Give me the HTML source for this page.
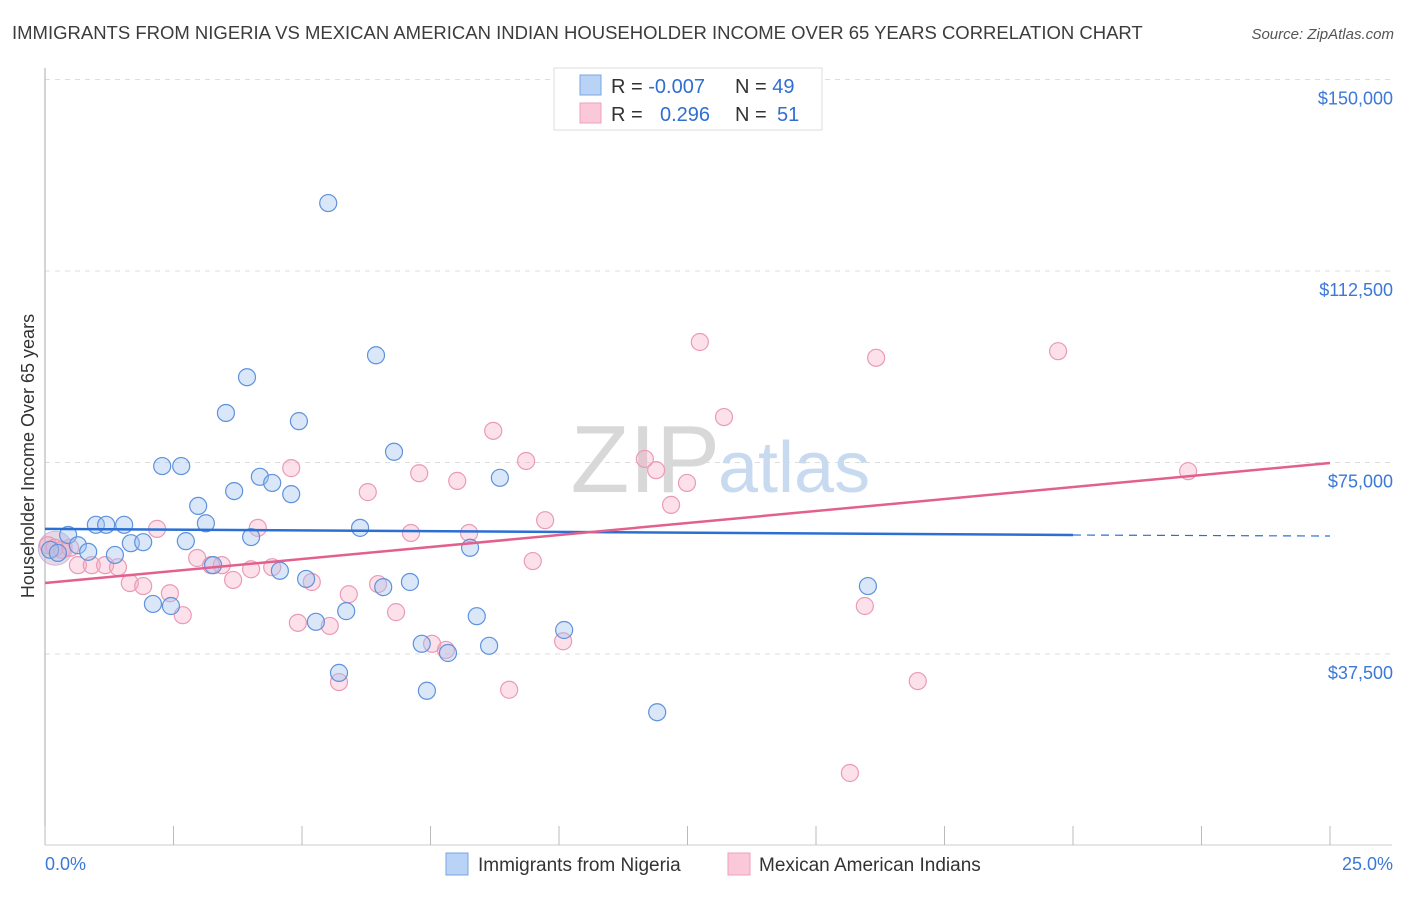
<!DOCTYPE html>
<html><head><meta charset="utf-8"><style>
body{margin:0;background:#fff;font-family:"Liberation Sans",sans-serif;}
svg text{font-family:"Liberation Sans",sans-serif;}
</style></head><body>
<svg id="chart" width="1406" height="892" viewBox="0 0 1406 892">
<text x="12" y="39" font-size="18.5" fill="#3c3c3c">IMMIGRANTS FROM NIGERIA VS MEXICAN AMERICAN INDIAN HOUSEHOLDER INCOME OVER 65 YEARS CORRELATION CHART</text>
<text x="1394" y="39" font-size="15" fill="#555" font-style="italic" text-anchor="end">Source: ZipAtlas.com</text>
<g id="grid"></g>
<g id="axes"></g>
<text x="720" y="492" font-size="96" font-family="Liberation Serif" fill="#d8d8d8" text-anchor="end">ZIP</text>
<text x="718" y="492" font-size="72" fill="#c8daf0">atlas</text>
<g id="marks"></g>
<g id="trends"></g>
<text transform="translate(34,456) rotate(-90)" font-size="18" fill="#333" text-anchor="middle">Householder Income Over 65 years</text>
<g>
<rect x="554" y="68" width="268" height="62" fill="#fff" stroke="#ddd"/>
<rect x="580" y="75" width="21" height="20" fill="#b8d3f5" stroke="#7aa6e0"/>
<rect x="580" y="103" width="21" height="20" fill="#fac8d8" stroke="#eda0bb"/>
<text x="611" y="93" font-size="20" fill="#333">R = <tspan fill="#2f6fd0">-0.007</tspan></text>
<text x="735" y="93" font-size="20" fill="#333">N = <tspan fill="#2f6fd0">49</tspan></text>
<text x="611" y="121" font-size="20" fill="#333">R = <tspan fill="#2f6fd0" x="660">0.296</tspan></text>
<text x="735" y="121" font-size="20" fill="#333">N = <tspan fill="#2f6fd0" x="777">51</tspan></text>
</g>
<g>
<rect x="446" y="853" width="22" height="22" fill="#b8d3f5" stroke="#7aa6e0"/>
<text x="478" y="871" font-size="19" fill="#333">Immigrants from Nigeria</text>
<rect x="728" y="853" width="22" height="22" fill="#fac8d8" stroke="#eda0bb"/>
<text x="759" y="871" font-size="19" fill="#333">Mexican American Indians</text>
</g>
</svg>
<script>
const yTicks=[37500,75000,112500,150000];
const yTickLabels=["$37,500","$75,000","$112,500","$150,000"];
const xTickLabels=["0.0%","25.0%"];
const blueX=[0.10,0.25,0.45,0.64,0.84,0.99,1.19,1.36,1.54,1.67,1.91,2.10,2.28,2.45,2.65,2.74,2.98,3.13,3.27,3.52,3.68,3.93,4.01,4.18,4.42,4.57,4.79,4.94,5.08,5.27,5.51,5.72,5.86,6.13,6.44,6.58,6.79,7.10,7.33,7.43,7.84,8.27,8.40,8.64,8.85,10.10,11.91,13.33,16.01];
const blueY=[57900,57300,60800,58800,57500,62800,62800,56900,62800,59200,59400,47300,74300,46900,74300,59600,66500,63100,54900,84700,69400,91700,60400,72200,71000,53800,68800,83100,52200,43800,125800,33800,45900,62200,96000,50600,77100,51600,39500,30300,37700,58300,44900,39100,72000,42200,26100,145600,50800];
const pinkX=[0.06,0.19,0.33,0.49,0.64,0.91,1.17,1.42,1.65,1.91,2.18,2.43,2.68,2.96,3.23,3.44,3.66,4.01,4.14,4.42,4.79,4.92,5.19,5.54,5.72,5.91,6.28,6.48,6.83,7.12,7.28,7.53,7.80,8.02,8.25,8.72,9.03,9.36,9.49,9.73,10.08,11.67,11.89,12.18,12.49,12.74,13.21,15.66,15.95,16.17,16.98,19.71,22.24];
const pinkY=[58800,58300,57900,58300,54900,54900,54900,54500,51400,50800,62000,49400,45100,56300,54900,54900,52000,54100,62200,54500,73900,43600,51600,43000,32000,49200,69200,51200,45700,61200,72900,39500,38300,71400,61200,81200,30500,75300,55700,63700,40000,75700,73500,66700,71000,98600,83900,14200,46900,95500,32200,96800,73300];
const blueTrendX=[0,20,25];
const blueTrendY=[62000,60800,60600];
const pinkTrendX=[0,25];
const pinkTrendY=[51400,74900];

const NS="http://www.w3.org/2000/svg";
const X=v=>45+v/25*1285;
const Y=v=>654-(v-37500)/37500*191.5;
function mk(tag,attrs,parent){const e=document.createElementNS(NS,tag);for(const k in attrs)e.setAttribute(k,attrs[k]);document.getElementById(parent).appendChild(e);return e;}

yTicks.forEach((t,i)=>{
  const g=mk('line',{x1:45,x2:1392,y1:Y(t),y2:Y(t),stroke:'#ddd','stroke-dasharray':'5,5'},'grid');
  
  
  const l=mk('text',{x:1393,y:Y(t)+25,'font-size':18,fill:'#3b78d8','text-anchor':'end'},'axes');
  l.textContent=yTickLabels[i];
  
  
});
const ya=mk('line',{x1:45,x2:45,y1:68,y2:845,stroke:'#aaa'},'axes');


const xa=mk('line',{x1:45,x2:1392,y1:845,y2:845,stroke:'#ccc'},'axes');


for(let i=0;i<=10;i++){
  const t=mk('line',{x1:X(i*2.5),x2:X(i*2.5),y1:826,y2:845,stroke:'#bbb'},'axes');
  
  
}
const xl0=mk('text',{x:45,y:870,'font-size':18,fill:'#3b78d8'},'axes');
xl0.textContent=xTickLabels[0];


const xl1=mk('text',{x:1393,y:870,'font-size':18,fill:'#3b78d8','text-anchor':'end'},'axes');
xl1.textContent=xTickLabels[1];



const big=mk('circle',{cx:X(0.2),cy:Y(58200),r:17,fill:'rgba(200,170,200,0.45)',stroke:'rgba(180,150,200,0.6)'},'marks');


pinkX.forEach((v,i)=>{
  const c=mk('circle',{cx:X(v),cy:Y(pinkY[i]),r:8.5,fill:'rgba(245,170,195,0.35)',stroke:'#eb9ab6','stroke-width':1.2},'marks');
  
  
});
blueX.forEach((v,i)=>{
  const c=mk('circle',{cx:X(v),cy:Y(blueY[i]),r:8.5,fill:'rgba(160,196,240,0.4)',stroke:'#5e92dc','stroke-width':1.2},'marks');
  
  
});
const bt=mk('line',{x1:X(blueTrendX[0]),y1:Y(blueTrendY[0]),x2:X(blueTrendX[1]),y2:Y(blueTrendY[1]),stroke:'#2c6fd4','stroke-width':2.5},'trends');


const bd=mk('line',{x1:X(blueTrendX[1]),y1:Y(blueTrendY[1]),x2:X(blueTrendX[2]),y2:Y(blueTrendY[2]),stroke:'#2c6fd4','stroke-width':1.2,'stroke-dasharray':'8,6'},'trends');


const pt=mk('line',{x1:X(pinkTrendX[0]),y1:Y(pinkTrendY[0]),x2:X(pinkTrendX[1]),y2:Y(pinkTrendY[1]),stroke:'#e3608c','stroke-width':2.5},'trends');


</script>
</body></html>
